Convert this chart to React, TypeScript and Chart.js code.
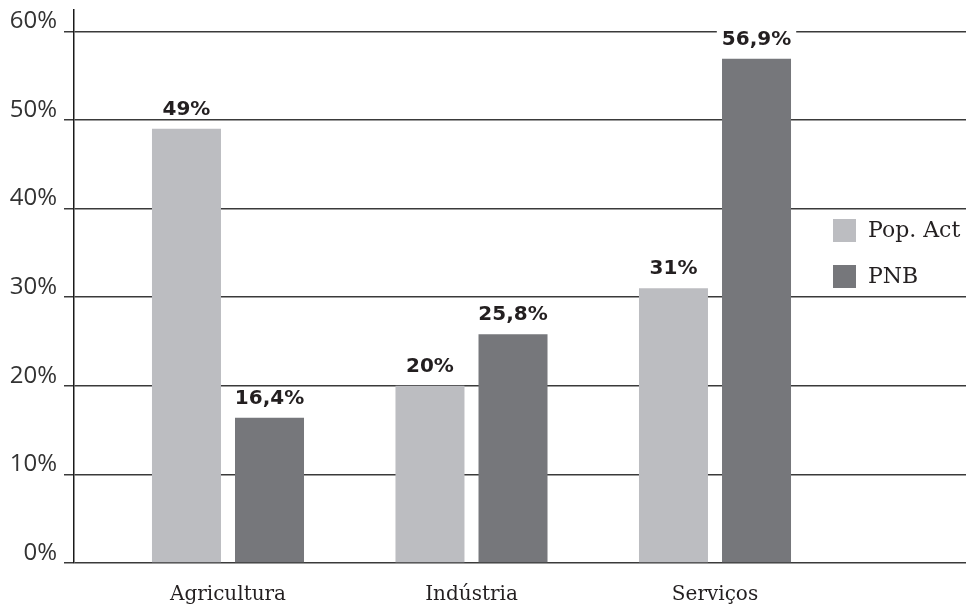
import React, { useEffect, useRef } from "react";
import { Chart, registerables } from "chart.js";

Chart.register(...registerables);

const categories = ["Agricultura", "Indústria", "Serviços"];
const popActValues = [49, 20, 31];
const pnbValues = [16.4, 25.8, 56.9];
const seriesLabels = ["Pop. Act", "PNB"];
const yTickValues = [0, 10, 20, 30, 40, 50, 60];

const LIGHT = "#bcbdc1";
const DARK = "#76777b";

const fmt = (v: number) => v.toString().replace(".", ",") + "%";

const valueLabelPlugin = {
  id: "valueLabels",
  afterDatasetsDraw(chart: any) {
    const ctx = chart.ctx;
    ctx.save();
    ctx.font = "bold 20px 'DejaVu Sans'";
    ctx.textAlign = "center";
    ctx.textBaseline = "alphabetic";
    chart.data.datasets.forEach((ds: any, di: number) => {
      const meta = chart.getDatasetMeta(di);
      meta.data.forEach((bar: any, i: number) => {
        const v = ds.data[i].y;
        const text = fmt(v);
        const x = bar.x;
        const y = bar.y - 14;
        const w = ctx.measureText(text).width;
        ctx.fillStyle = "#ffffff";
        ctx.fillRect(x - w / 2 - 5, y - 16, w + 10, 16);
        ctx.fillStyle = "#231f20";
        ctx.fillText(text, x, y);
      });
    });
    ctx.restore();
  },
};

const legendPlugin = {
  id: "customLegend",
  afterDraw(chart: any) {
    const ctx = chart.ctx;
    const area = chart.chartArea;
    ctx.save();
    ctx.font = "22px 'DejaVu Serif'";
    ctx.textBaseline = "middle";
    ctx.textAlign = "left";
    chart.data.datasets.forEach((ds: any, di: number) => {
      const bx = area.right - 133;
      const by = 219 + di * 46;
      ctx.fillStyle = ds.backgroundColor;
      ctx.fillRect(bx, by, 23, 23);
      ctx.fillStyle = "#231f20";
      ctx.fillText(ds.label, bx + 35, by + 12);
    });
    ctx.restore();
  },
};

export default function App() {
  const ref = useRef<HTMLCanvasElement | null>(null);

  useEffect(() => {
    document.body.style.margin = "0";
    if (!ref.current) return;
    const chart = new Chart(ref.current, {
      type: "bar",
      data: {
        datasets: [
          {
            label: seriesLabels[0],
            data: popActValues.map((v, i) => ({ x: i, y: v })),
            backgroundColor: LIGHT,
            categoryPercentage: 0.682,
            barPercentage: 0.831,
          },
          {
            label: seriesLabels[1],
            data: pnbValues.map((v, i) => ({ x: i, y: v })),
            backgroundColor: DARK,
            categoryPercentage: 0.682,
            barPercentage: 0.831,
          },
        ],
      },
      options: {
        animation: false,
        responsive: false,
        maintainAspectRatio: false,
        layout: { padding: { top: 10, right: 0, left: 0, bottom: 0 } },
        plugins: {
          legend: { display: false },
          tooltip: { enabled: false },
        },
        scales: {
          x: {
            type: "linear",
            offset: false,
            min: -0.6324,
            max: 3.0308,
            grid: { display: false, drawTicks: false, offset: false },
            border: { display: false },
            afterBuildTicks: (scale: any) => {
              scale.ticks = categories.map((_, i) => ({ value: i }));
            },
            afterFit: (scale: any) => {
              scale.height = 45;
              scale.paddingLeft = 0;
              scale.paddingRight = 0;
            },
            ticks: {
              padding: 20,
              color: "#231f20",
              font: { family: "'DejaVu Serif'", size: 20 },
              maxRotation: 0,
              autoSkip: false,
              callback: (v: any) => categories[Math.round(Number(v))] ?? "",
            },
          },
          y: {
            type: "linear",
            min: 0,
            max: 62.4,
            afterBuildTicks: (scale: any) => {
              scale.ticks = yTickValues.map((v) => ({ value: v }));
            },
            afterFit: (scale: any) => {
              scale.width = 74;
              scale.paddingTop = 0;
              scale.paddingBottom = 0;
            },
            grid: {
              color: "#3a3a3a",
              lineWidth: 1.5,
              tickLength: 10,
              drawTicks: true,
            },
            border: { display: true, color: "#1a1a1a", width: 1.5 },
            ticks: {
              padding: 7,
              labelOffset: -10,
              color: "#333333",
              font: { family: "'Open Sans'", size: 24 },
              callback: (v: any) => v + "%",
            },
          },
        },
      },
      plugins: [valueLabelPlugin, legendPlugin],
    } as any);
    return () => chart.destroy();
  }, []);

  return (
    <div style={{ width: 966, height: 608 }}>
      <canvas ref={ref} width={966} height={608} style={{ width: 966, height: 608, display: "block" }} />
    </div>
  );
}
